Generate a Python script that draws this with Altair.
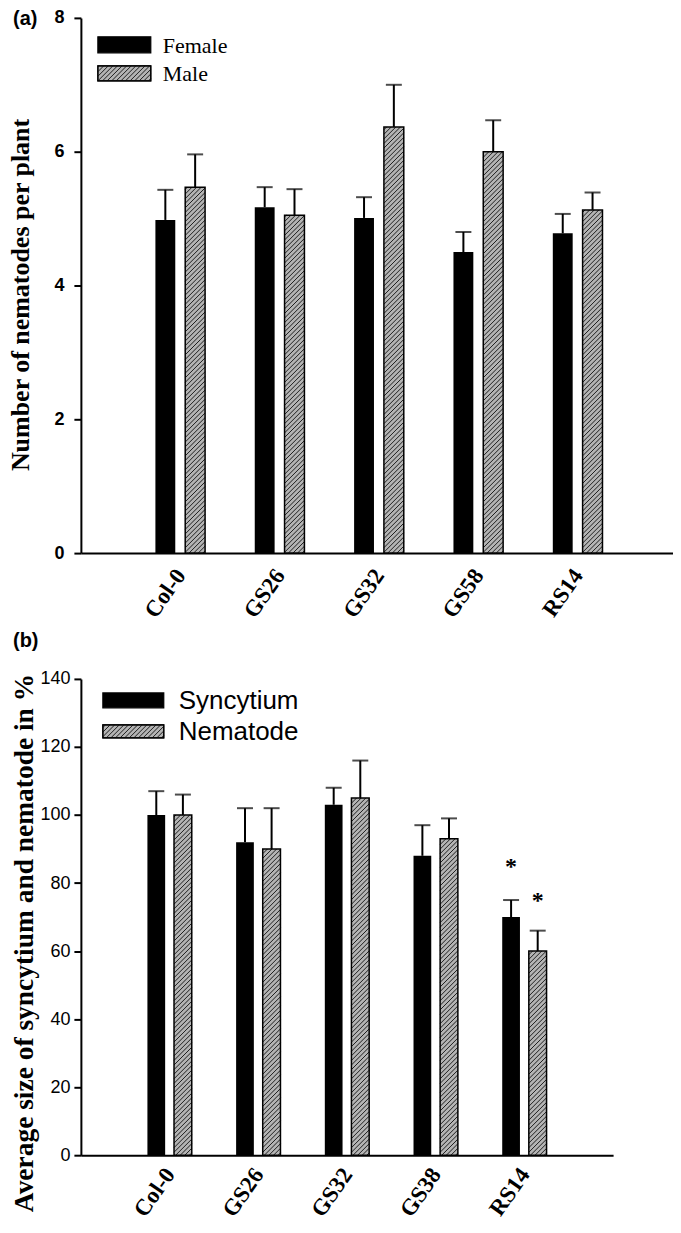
import altair as alt
import pandas as pd

# ---------------- data ----------------
genotypes_a = ["Col-0", "GS26", "GS32", "GS58", "RS14"]
series_a = ["Female", "Male"]
female = [4.98, 5.17, 5.01, 4.50, 4.78]
female_err = [0.45, 0.30, 0.31, 0.30, 0.29]
male = [5.47, 5.05, 6.37, 6.00, 5.13]
male_err = [0.49, 0.39, 0.63, 0.47, 0.26]
yticks_a = [0, 2, 4, 6, 8]

genotypes_b = ["Col-0", "GS26", "GS32", "GS38", "RS14"]
series_b = ["Syncytium", "Nematode"]
syncytium = [100, 92, 103, 88, 70]
syncytium_err = [7, 10, 5, 9, 5]
nematode = [100, 90, 105, 93, 60]
nematode_err = [6, 12, 11, 6, 6]
yticks_b = [0, 20, 40, 60, 80, 100, 120, 140]
star_genotype_b = ["RS14", "RS14"]
star_series_b = ["Syncytium", "Nematode"]
star_y_b = [86, 76]

SERIF = "Liberation Serif"
SANS = "Liberation Sans"
GRAY = "#b4b4b4"
HATCH = "#1e1e1e"


def hatch(w, h, step=4.6):
    """45-degree '/' hatch segments inside a w x h box (pixel units, y up)."""
    segs = []
    c = -w + step / 2
    while c < h:
        xs = max(0.0, -c)
        xe = min(w, h - c)
        if xe > xs:
            segs.append((xs, xs + c, xe, xe + c))
        c += step
    return segs


def panel(cats, names, vals, errs, ymax, yticks, W, H, ytitle, tick_bold,
          tick_pad, title_size, title_x, title_y, letter, letter_y, leg,
          xlabel_pad, stars=None):
    kx = W / 6.0
    ky = H / ymax
    rows = []
    for si, (name, v, e) in enumerate(zip(names, vals, errs)):
        off = -0.15 if si == 0 else 0.15
        for i, c in enumerate(cats):
            xc = i + off
            rows.append(dict(cat=c, series=name, s=si, xc=xc, x0=xc - 0.1,
                             x1=xc + 0.1, v=v[i], cap=v[i] + e[i]))
    df = pd.DataFrame(rows)
    d0 = df[df.s == 0]
    d1 = df[df.s == 1]

    hrows = []
    for r in d1.itertuples():
        for (a, b, c, d) in hatch((r.x1 - r.x0) * kx, r.v * ky):
            hrows.append(dict(hx=r.x0 + a / kx, hy=b / ky,
                              hx2=r.x0 + c / kx, hy2=d / ky))
    hdf = pd.DataFrame(hrows)

    label_expr = "[" + ",".join("'%s'" % c for c in cats) + "][datum.value]"
    xscale = alt.Scale(domain=[-1, 5], nice=False, zero=False)
    yscale = alt.Scale(domain=[0, ymax], nice=False, zero=True)
    xax = alt.Axis(values=list(range(len(cats))), labelExpr=label_expr,
                   title=None, grid=False, ticks=False, tickSize=0,
                   domainColor="black", domainWidth=2,
                   labelFont=SERIF, labelFontWeight="bold", labelFontSize=23,
                   labelAngle=-55, labelAlign="right", labelBaseline="middle",
                   labelPadding=xlabel_pad, labelColor="black",
                   labelOverlap=False, labelFlush=False)
    yax = alt.Axis(values=yticks, grid=False, tickSize=7, tickWidth=2,
                   tickColor="black", domainColor="black", domainWidth=2,
                   labelFont=SANS, labelFontSize=18,
                   labelFontWeight="bold" if tick_bold else "normal",
                   labelPadding=tick_pad, labelColor="black", title=ytitle,
                   titleFont=SERIF, titleFontWeight="bold",
                   titleFontSize=title_size, titleAngle=-90,
                   titleX=title_x, titleY=title_y, titleAlign="center",
                   titleBaseline="alphabetic", titleColor="black")

    def X(f):
        return alt.X(f, scale=xscale, axis=xax)

    def Y(f):
        return alt.Y(f, scale=yscale, axis=yax)

    bars0 = alt.Chart(d0).mark_rect(fill="black").encode(
        x=X("x0:Q"), x2="x1:Q", y=Y("v:Q"), y2=alt.datum(0))
    bars1 = alt.Chart(d1).mark_rect(fill=GRAY).encode(
        x=X("x0:Q"), x2="x1:Q", y=Y("v:Q"), y2=alt.datum(0))
    hat = alt.Chart(hdf).mark_rule(color=HATCH, strokeWidth=1).encode(
        x=X("hx:Q"), x2="hx2:Q", y=Y("hy:Q"), y2="hy2:Q")
    out1 = alt.Chart(d1).mark_rect(fillOpacity=0, stroke="black",
                                   strokeWidth=1.5).encode(
        x=X("x0:Q"), x2="x1:Q", y=Y("v:Q"), y2=alt.datum(0))
    err = alt.Chart(df).mark_rule(color="black", strokeWidth=2).encode(
        x=X("xc:Q"), y=Y("v:Q"), y2="cap:Q")
    cap = alt.Chart(df).mark_tick(orient="horizontal", size=16, thickness=2,
                                  color="black").encode(
        x=X("xc:Q"), y=Y("cap:Q"))

    # legend (pixel layout relative to the plot area)
    lrows = []
    lhrows = []
    for i, name in enumerate(names):
        x0, x1, y0, y1 = leg["rects"][i]
        lrows.append(dict(label=name, s=i, x0=x0, x1=x1, y0=y0, y1=y1,
                          tx=leg["tx"], ty=leg["ty"][i]))
        if i == 1:
            for (a, b, c, d) in hatch(x1 - x0, y1 - y0):
                lhrows.append(dict(hx=x0 + a, hy=y1 - b, hx2=x0 + c,
                                   hy2=y1 - d))
    ldf = pd.DataFrame(lrows)
    lhdf = pd.DataFrame(lhrows)
    PX = dict(scale=None, axis=None)
    leg_rect = alt.Chart(ldf).mark_rect(stroke="black", strokeWidth=1.2).encode(
        x=alt.X("x0:Q", **PX), x2="x1:Q",
        y=alt.Y("y0:Q", **PX), y2="y1:Q",
        fill=alt.Fill("s:N", scale=alt.Scale(domain=[0, 1],
                                             range=["black", GRAY]),
                      legend=None))
    leg_hat = alt.Chart(lhdf).mark_rule(color=HATCH, strokeWidth=1).encode(
        x=alt.X("hx:Q", **PX), x2="hx2:Q", y=alt.Y("hy:Q", **PX), y2="hy2:Q")
    leg_out = alt.Chart(ldf[ldf.s == 1]).mark_rect(
        fillOpacity=0, stroke="black", strokeWidth=1.2).encode(
        x=alt.X("x0:Q", **PX), x2="x1:Q", y=alt.Y("y0:Q", **PX), y2="y1:Q")
    leg_txt = alt.Chart(ldf).mark_text(
        align="left", baseline="alphabetic", font=leg["font"],
        fontSize=leg["size"], color="black").encode(
        x=alt.X("tx:Q", **PX), y=alt.Y("ty:Q", **PX), text="label:N")

    let = alt.Chart(pd.DataFrame({"t": [letter]})).mark_text(
        align="left", baseline="alphabetic", font=SANS, fontWeight="bold",
        fontSize=20, color="black").encode(
        text="t:N", x=alt.value(-68), y=alt.value(letter_y))

    layers = [bars0, bars1, hat, out1, err, cap, leg_rect, leg_hat, leg_out,
              leg_txt, let]

    if stars:
        sg, ss, sy = stars
        srows = []
        for g, s, y in zip(sg, ss, sy):
            si = names.index(s)
            srows.append(dict(xc=cats.index(g) + (-0.15 if si == 0 else 0.15),
                              y=y, t="*"))
        st = alt.Chart(pd.DataFrame(srows)).mark_text(
            font=SERIF, fontWeight="bold", fontSize=24, baseline="middle",
            dy=4, color="black").encode(x=X("xc:Q"), y=Y("y:Q"), text="t:N")
        layers.append(st)

    return alt.layer(*layers).properties(width=W, height=H)


top = panel(genotypes_a, series_a, [female, male], [female_err, male_err],
            8, yticks_a, 597, 536, "Number of nematodes per plant", True, 10,
            26, -52, 277, "(a)", 7,
            dict(rects=[(17, 70, 19, 35), (17, 70, 48, 63)], tx=82,
                 ty=[35, 63], font=SERIF, size=22), 18)

bottom = panel(genotypes_b, series_b, [syncytium, nematode],
               [syncytium_err, nematode_err], 140, yticks_b, 533, 477,
               "Average size of syncytium and nematode in %", False, 4,
               27.5, -48, 264, "(b)", -32,
               dict(rects=[(22, 83, 14, 29), (22, 83, 46, 59)], tx=98,
                    ty=[30, 61], font=SANS, size=26), 15,
               stars=(star_genotype_b, star_series_b, star_y_b))

chart = alt.vconcat(top, bottom, spacing=9).properties(
    padding={"left": 0, "top": 0, "right": -4, "bottom": 0},
    background="white"
).configure_view(stroke=None)

chart.save("out.html", embed_options={"renderer": "svg", "actions": False})
